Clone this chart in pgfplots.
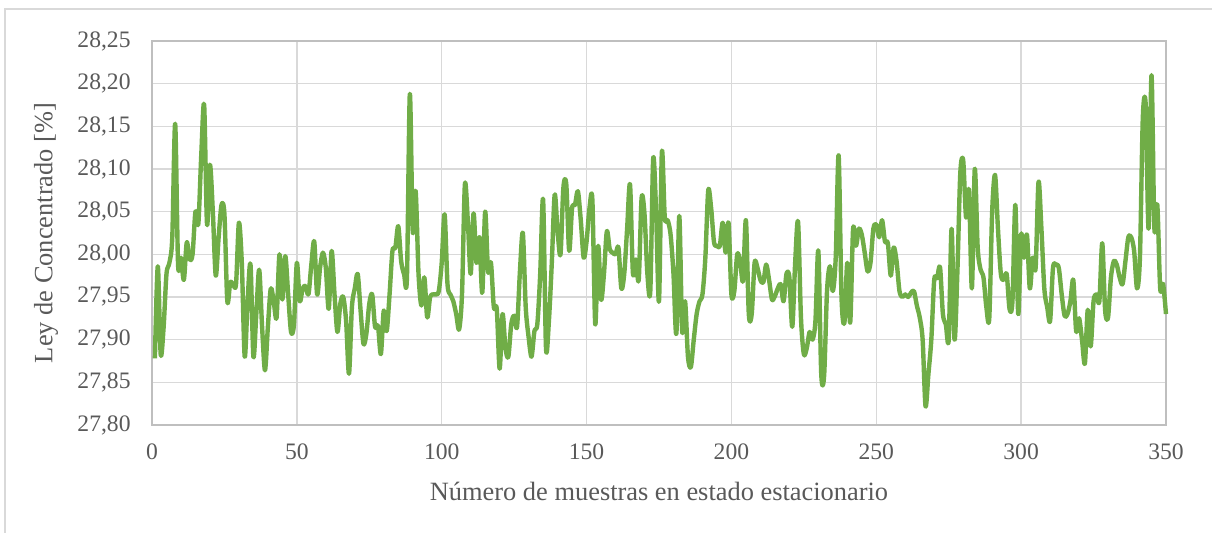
\documentclass[border=0pt]{standalone}
\usepackage{pgfplots}
\pgfplotsset{compat=1.18}
\usepackage{fontspec}
\setmainfont{Liberation Serif}
\definecolor{linegreen}{HTML}{70AD47}
\definecolor{gridgray}{HTML}{D9D9D9}
\definecolor{axisgray}{HTML}{BFBFBF}
\definecolor{textgray}{HTML}{595959}

\pgfplotstableread{
n y
1 27.878
2 27.986
3 27.883
4 27.914
5 27.977
6 27.990
7 28.020
8 28.153
9 27.988
10 27.996
11 27.970
12 28.014
13 27.994
14 28.000
15 28.050
16 28.036
17 28.116
18 28.175
19 28.035
20 28.105
21 28.050
22 27.975
23 28.020
24 28.058
25 28.047
26 27.945
27 27.967
28 27.965
29 27.965
30 28.037
31 27.990
32 27.880
33 27.945
34 27.988
35 27.880
36 27.930
37 27.982
38 27.915
39 27.864
40 27.915
41 27.960
42 27.945
43 27.926
44 28.000
45 27.947
46 27.998
47 27.953
48 27.909
49 27.918
50 27.990
51 27.945
52 27.960
53 27.963
54 27.953
55 27.988
56 28.015
57 27.953
58 27.984
59 28.002
60 27.984
61 27.936
62 28.004
63 27.953
64 27.909
65 27.942
66 27.950
67 27.922
68 27.860
69 27.938
70 27.960
71 27.977
72 27.934
73 27.895
74 27.907
75 27.942
76 27.953
77 27.915
78 27.916
79 27.883
80 27.934
81 27.910
82 27.953
83 28.004
84 28.008
85 28.033
86 27.992
87 27.977
88 27.973
89 28.188
90 28.027
91 28.074
92 27.977
93 27.940
94 27.973
95 27.926
96 27.950
97 27.953
98 27.953
99 27.957
100 27.990
101 28.047
102 27.965
103 27.953
104 27.945
105 27.930
106 27.912
107 27.953
108 28.082
109 28.040
110 27.977
111 28.048
112 27.990
113 28.020
114 27.955
115 28.050
116 27.980
117 27.990
118 27.938
119 27.936
120 27.866
121 27.930
122 27.890
123 27.880
124 27.918
125 27.928
126 27.915
127 27.980
128 28.025
129 27.938
130 27.903
131 27.880
132 27.910
133 27.918
134 27.977
135 28.064
136 27.890
137 27.922
138 27.990
139 28.070
140 28.027
141 28.000
142 28.078
143 28.082
144 28.004
145 28.054
146 28.058
147 28.074
148 28.040
149 27.996
150 28.015
151 28.054
152 28.064
153 27.918
154 28.010
155 27.947
156 27.977
157 28.027
158 28.006
159 28.002
160 28.000
161 28.008
162 27.960
163 27.977
164 28.030
165 28.082
166 27.978
167 27.994
168 27.970
169 28.066
170 28.047
171 27.977
172 27.957
173 28.112
174 28.050
175 27.945
176 28.120
177 28.043
178 28.040
179 28.023
180 27.977
181 27.907
182 28.045
183 27.910
184 27.945
185 27.880
186 27.868
187 27.900
188 27.930
189 27.945
190 27.953
191 27.996
192 28.075
193 28.054
194 28.014
195 28.010
196 28.010
197 28.037
198 28.002
199 28.037
200 27.953
201 27.957
202 28.000
203 27.992
204 27.969
205 28.040
206 27.930
207 27.930
208 27.990
209 27.984
210 27.970
211 27.967
212 27.988
213 27.970
214 27.947
215 27.951
216 27.960
217 27.965
218 27.945
219 27.977
220 27.973
221 27.915
222 27.990
223 28.038
224 27.926
225 27.883
226 27.890
227 27.909
228 27.900
229 27.922
230 28.004
231 27.860
232 27.858
233 27.957
234 27.986
235 27.957
236 27.996
237 28.116
238 27.950
239 27.920
240 27.990
241 27.920
242 28.030
243 28.010
244 28.030
245 28.023
246 28.002
247 27.980
248 27.990
249 28.030
250 28.035
251 28.020
252 28.040
253 28.015
254 28.013
255 27.975
256 28.008
257 27.992
258 27.957
259 27.950
260 27.953
261 27.950
262 27.955
263 27.957
264 27.940
265 27.926
266 27.900
267 27.822
268 27.860
269 27.900
270 27.970
271 27.972
272 27.985
273 27.930
274 27.918
275 27.900
276 28.030
277 27.900
278 27.980
279 28.095
280 28.110
281 28.043
282 28.075
283 27.960
284 28.100
285 28.008
286 27.982
287 27.973
288 27.938
289 27.925
290 28.050
291 28.093
292 28.030
293 27.977
294 27.970
295 27.977
296 27.936
297 27.945
298 28.058
299 27.930
300 28.023
301 27.996
302 28.023
303 27.960
304 27.996
305 27.984
306 28.085
307 28.030
308 27.960
309 27.938
310 27.922
311 27.984
312 27.988
313 27.984
314 27.953
315 27.928
316 27.930
317 27.945
318 27.970
319 27.910
320 27.925
321 27.900
322 27.872
323 27.935
324 27.892
325 27.945
326 27.953
327 27.945
328 28.013
329 27.934
330 27.926
331 27.973
332 27.992
333 27.988
334 27.973
335 27.965
336 27.992
337 28.020
338 28.020
339 28.004
340 27.960
341 27.996
342 28.160
343 28.175
344 28.030
345 28.210
346 28.030
347 28.058
348 27.960
349 27.965
350 27.930
}\datatable

\begin{document}
\begin{tikzpicture}
\begin{axis}[
  width=507pt, height=192pt, scale only axis,
  xmin=0, xmax=350, ymin=27.8, ymax=28.25,
  xtick={0,50,100,150,200,250,300,350},
  ytick={27.8,27.85,27.9,27.95,28,28.05,28.1,28.15,28.2,28.25},
  grid=major,
  major grid style={gridgray, line width=0.7pt},
  axis line style={axisgray, line width=0.7pt},
  major tick length=0pt,
  tick label style={font=\fontsize{11.8}{14}\selectfont, text=textgray, inner sep=0pt},
  /pgf/number format/assume math mode=true,
  yticklabel style={xshift=-10.5pt, /pgf/number format/.cd, fixed, fixed zerofill, precision=2, use comma},
  xticklabel style={yshift=-9pt},
  label style={font=\fontsize{13.2}{15}\selectfont, text=textgray},
  xlabel={Número de muestras en estado estacionario},
  xlabel style={at={(axis description cs:0.5,0)}, anchor=center, yshift=-33pt},
  ylabel={Ley de Concentrado [\%]},
  ylabel style={at={(axis description cs:-0.1045,0.5)}, anchor=center},
  clip=false,
]
\addplot[linegreen, line width=2.2pt, smooth, tension=0.5, line join=round, no markers] table[x=n, y=y] {\datatable};
\end{axis}
\pgfresetboundingbox
\path[use as bounding box] (-76pt,-54pt) rectangle (530pt,212.5pt);
\draw[gridgray, line width=0.6pt] (-73.5pt,-60pt) -- (-73.5pt,208pt) -- (540pt,208pt);
\end{tikzpicture}
\end{document}
